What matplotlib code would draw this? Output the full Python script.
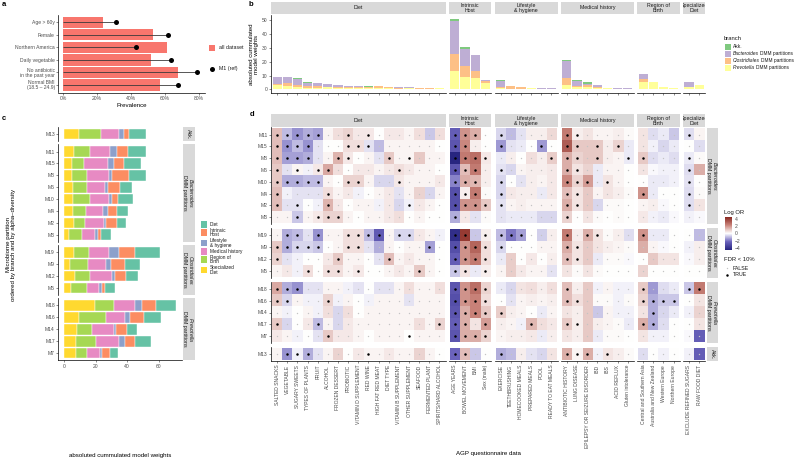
import matplotlib
matplotlib.use('Agg')
import matplotlib.pyplot as plt
import numpy as np
from matplotlib.colors import LinearSegmentedColormap, Normalize
from matplotlib.patches import Rectangle
import matplotlib.cm as cm

plt.rcParams['font.family'] = ['Liberation Sans', 'DejaVu Sans']
plt.rcParams['mathtext.fontset'] = 'custom'
plt.rcParams['mathtext.it'] = 'Liberation Sans:italic'
plt.rcParams['mathtext.rm'] = 'Liberation Sans'

# ---------------- panel a ----------------
a_labels = ['Age > 60y', 'Female', 'Northern America', 'Daily vegetable',
            'No antibiotic\nin the past year', 'Normal BMI\n(18.5 – 24.9)']
prev_all = [23.5, 53, 61, 52, 68, 57]
prev_m1 = [31, 62, 43, 63.5, 79, 68]

# ---------------- variables (panels b, d) ----------------
diet_vars = ['SALTED SNACKS', 'VEGETABLE', 'SUGARY SWEETS', 'TYPES OF PLANTS', 'FRUIT',
             'ALCOHOL', 'FROZEN DESSERT', 'PROBIOTIC', 'VITAMIN D SUPPLEMENT', 'RED WINE',
             'HIGH FAT RED MEAT', 'DIET TYPE', 'VITAMIN B SUPPLEMENT', 'OTHER SUPPLEMENT',
             'SEAFOOD', 'FERMENTED PLANT', 'SPIRITS/HARD ALCOHOL']
host_vars = ['AGE YEARS', 'BOWEL MOVEMENT', 'BMI', 'Sex (male)']
life_vars = ['EXERCISE', 'TEETHBRUSHING', 'HOMECOOKED MEALS', 'PREPARED MEALS', 'POOL',
             'READY TO EAT MEALS']
med_vars = ['ANTIBIOTIC HISTORY', 'LUNG DISEASE', 'EPILEPSY OR SEIZURE DISORDER', 'IBD', 'IBS',
            'ACID REFLUX', 'Gluten intolerance']
region_vars = ['Central and Southern Asia', 'Australia and New Zealand', 'Western Europe',
               'Northern Europe']
special_vars = ['EXCLUDE REFINED SUGARS', 'RAW FOOD DIET']

categories = ['Diet', 'Intrinsic\nHost', 'Lifestyle\n& hygiene', 'Medical history',
              'Region of\nBirth', 'Specialized\nDiet']

# panel b: cummulated model weights per branch (same variable order as above)
w_prevotella = [3.1, 2.6, 1.9, 0.7, 1.2, 1.4, 1.0, 1.0, 0.7, 1.0, 0.7, 0.7, 0.5, 0.7, 0.2, 0.5, 0.7,
                13.1, 8.6, 8.3, 4.8,
                0.7, 0.0, 0.3, 1.0, 0.2, 0.0,
                3.1, 1.4, 1.4, 1.0, 0.7, 0.2, 0.2,
                5.2, 5.2, 1.7, 1.0,
                1.4, 2.9]
w_clostridiales = [0.9, 2.2, 1.2, 1.4, 1.4, 0.6, 0.7, 0.4, 1.0, 0.4, 1.4, 0.7, 0.7, 0.5, 0.8, 0.2, 0.0,
                   12.6, 8.5, 4.8, 1.4,
                   0.7, 2.4, 1.4, 0.0, 0.0, 0.0,
                   5.2, 1.0, 1.5, 0.4, 0.0, 0.0, 0.0,
                   2.2, 0.0, 0.0, 0.0,
                   0.0, 0.0]
w_bacteroides = [5.0, 3.8, 4.5, 2.4, 1.7, 1.8, 1.2, 1.2, 0.7, 0.5, 0.0, 0.3, 0.2, 0.2, 0.0, 0.0, 0.0,
                 23.3, 12.2, 11.4, 0.5,
                 4.6, 0.0, 0.0, 0.0, 0.8, 0.7,
                 11.9, 3.3, 0.7, 1.5, 0.3, 0.5, 0.5,
                 3.6, 0.0, 0.0, 0.0,
                 3.8, 0.0]
w_akk = [0.0, 0.4, 0.5, 0.5, 0.0, 0.0, 0.0, 0.0, 0.0, 0.5, 0.0, 0.0, 0.0, 0.0, 0.0, 0.0, 0.0,
         1.7, 1.4, 0.0, 0.0,
         0.4, 0.0, 0.0, 0.0, 0.0, 0.0,
         1.2, 0.7, 1.4, 0.0, 0.2, 0.0, 0.0,
         0.0, 0.0, 0.0, 0.0,
         0.0, 0.0]

# ---------------- panel d: log OR and FDR significance ----------------
d_partitions = ['M11', 'M15', 'M8', 'M6', 'M10', 'M4', 'M2', 'M3',
                'M19', 'M9', 'M12', 'M5',
                'M18', 'M16', 'M14', 'M17', 'M7',
                'M13']
lor_diet = [
    [1.2, -1.0, -1.6, -1.2, -1.4, 0.2, 0.6, 0.8, 0.4, 0.4, 0.0, 0.4, 0.4, 0.2, 0.6, -0.8, 0.6],
    [1.2, -1.6, -1.0, -1.6, -0.4, 0.0, 0.0, 0.6, 0.6, -0.4, -1.0, 0.2, 0.2, 0.2, 0.2, 0.2, 0.0],
    [1.2, -1.4, -1.4, -1.2, -0.4, 0.2, 1.4, 0.4, 0.0, 0.2, -0.4, 1.0, 0.2, 0.2, 1.0, 0.2, 0.2],
    [1.0, -0.4, 0.2, -0.2, 0.4, 1.6, 0.6, 0.0, 0.4, 0.4, 0.2, 0.4, 0.6, 0.4, 0.2, 0.2, 0.0],
    [1.0, -1.2, -1.2, -1.0, -1.0, 0.2, 0.0, 0.8, 0.8, 0.2, -0.6, -0.6, 0.4, 0.2, 0.2, 0.2, 0.4],
    [1.2, -0.2, -0.4, -0.4, -0.4, 0.6, 0.2, 0.4, -0.2, 0.0, 0.2, 0.4, -0.4, 0.2, 0.8, -0.6, 0.2],
    [1.2, -0.4, -0.4, 0.0, -0.2, 1.4, 0.4, 0.0, 0.2, 0.2, -0.2, 0.4, -0.6, -0.2, 0.4, 0.2, 0.0],
    [0.2, 0.2, -0.8, 0.2, 0.4, 0.8, 0.8, 0.2, 0.0, 0.2, 0.2, 0.4, 0.6, 0.0, 0.2, 0.0, 0.0],
    [0.2, -1.2, -1.0, -0.4, -1.6, 0.2, 0.2, 0.6, 0.6, -1.0, -2.6, 0.2, -0.6, -0.6, 0.4, 0.2, -0.2],
    [1.0, -1.2, -0.6, -0.6, -0.8, 0.0, 0.2, 0.6, 0.6, -0.4, -1.2, 0.2, 0.0, 0.2, 0.2, -1.4, 0.0],
    [0.8, -0.4, -0.2, 0.0, 0.0, 0.4, 1.0, 0.2, 0.2, 0.0, -0.4, 1.2, 0.2, 0.4, 0.2, 0.2, 0.0],
    [0.2, 0.4, -0.2, 0.6, 0.0, 0.6, 0.6, 0.2, 0.4, 0.0, 0.0, 0.2, 0.4, 0.2, 1.0, 0.2, 0.0],
    [1.6, -1.2, -1.6, -0.4, -0.4, 0.2, 0.2, -0.2, -0.4, 0.0, -0.4, -0.4, 0.2, 0.6, 0.2, 0.2, 0.6],
    [1.0, -0.6, 0.2, -0.2, -0.2, 0.8, -0.2, 0.2, 0.0, -0.2, 0.2, 0.2, 0.2, -0.4, 0.2, 0.2, 0.2],
    [0.2, -0.2, 0.0, 0.2, -0.2, 0.6, -0.6, 0.6, 0.0, 0.2, 0.2, 0.2, 0.2, 0.2, 0.2, 0.2, 0.2],
    [1.0, -0.6, 0.0, 0.4, -1.0, 0.2, -0.6, 0.4, 0.2, 0.2, 0.2, 0.2, 0.2, 0.2, 0.6, 0.2, 0.8],
    [0.4, 0.2, -0.2, 0.0, -0.4, 1.0, 0.4, 0.4, 0.2, 0.0, 0.2, 0.2, 0.2, 0.0, 0.2, 0.2, 0.2],
    [0.2, -1.6, -0.2, -1.2, -0.4, 0.2, 0.8, 0.0, 0.4, 0.2, 0.2, 0.4, 0.2, 0.2, 0.8, 0.2, 0.0],
]
sig_diet = ['11111001010000000', '11110001110000000', '11110011000101000', '10101100000010000',
            '11111001100010000', '10000100000000000', '10100100000001000', '00101110000000000',
            '01101001111011000', '11111001100000010', '10000010000100000', '00010110100000100',
            '11100000000000000', '11000100000000000', '00000000000000000', '10001000000000001',
            '00000100000001000', '01110000010000000']
lor_host = [[-2.5, 2.0, 1.5, 0.0], [-2.8, 2.2, 0.3, 0.0], [-4.5, 2.5, 2.8, 0.4], [-2.8, 1.2, 2.5, 0.3],
            [-1.8, 1.5, 1.3, 0.3], [-3.0, 0.3, 2.5, 0.1], [-3.0, 2.0, 2.0, 1.0], [-1.2, 0.4, -0.4, 0.1],
            [-4.2, 4.0, -0.8, 0.3], [-3.0, 2.0, 3.0, 0.6], [-2.5, 2.0, 2.5, 0.6], [-0.8, 0.5, -0.3, 0.3],
            [-2.8, 2.0, 2.8, 0.8], [-3.0, 2.0, 2.3, 0.6], [-2.8, 1.5, 2.3, 1.0], [-2.5, 1.5, 0.5, 1.8],
            [-2.8, 1.5, 1.5, 0.8], [-2.3, 1.2, -0.8, 0.0]]
sig_host = ['1110', '1100', '1111', '1110', '1110', '1110', '1111', '1000',
            '1101', '1111', '1111', '1101',
            '1111', '1111', '1111', '1101', '1111', '1100']
lor_life = [[-0.6, -1.0, -0.4, 0.3, 0.3, 0.7], [-1.5, -0.4, -0.3, 0.0, -1.5, 0.0],
            [-0.3, 0.3, 0.0, 0.6, 0.3, 0.9], [-0.4, -0.6, 0.2, 0.3, 0.3, 0.4],
            [-0.6, 0.0, -0.4, 0.3, 0.2, 0.4], [-0.6, 0.4, 0.3, 0.3, -0.3, 0.4],
            [-0.4, 0.2, 0.3, 0.2, 0.2, 0.2], [-0.4, -0.3, -0.3, -0.3, -0.6, -0.6],
            [-1.0, -2.0, -1.4, 0.0, -0.7, 0.3], [-0.6, 0.0, 0.0, 0.0, 0.2, 0.2],
            [-0.3, 0.9, 0.0, 0.4, 0.0, 0.3], [0.2, 0.9, 0.4, 0.2, 0.2, -0.4],
            [-0.3, -0.6, 0.5, 0.6, 0.3, 0.6], [0.0, -0.4, 0.2, 0.3, 0.2, 0.3],
            [0.9, 0.3, 0.2, 0.0, -0.3, 0.2], [0.3, 0.2, -0.2, 1.3, 0.6, 0.4],
            [0.2, 0.3, 0.3, 0.4, -0.3, 0.3], [-1.2, -1.0, 0.3, -0.4, -0.6, 0.5]]
sig_life = ['100000', '100010', '000001', '100000', '100000', '100000', '100000', '000000',
            '111000', '100000', '000000', '000000',
            '000000', '000000', '100000', '000100', '000000', '100000']
lor_med = [[2.5, 0.3, 0.5, 0.2, 0.2, 0.3, 0.1], [3.2, 1.0, 1.0, 1.0, 0.3, 0.8, -0.3],
           [1.5, 0.8, 1.0, 1.0, 0.3, 0.2, -0.3], [1.5, 0.5, 0.8, -0.3, 0.2, 0.2, 0.0],
           [2.2, 0.8, 1.8, -0.3, 0.5, 0.2, 0.0], [1.2, 0.5, 1.0, 0.2, 0.5, 0.3, 0.1],
           [1.5, 0.5, 1.0, -0.6, 0.1, 0.1, 0.0], [0.8, 0.0, 0.5, 0.1, 0.0, 0.1, 0.0],
           [2.5, 0.3, 1.5, 0.5, 0.1, 0.3, -0.5], [1.5, 0.5, 1.0, 0.5, 0.3, 0.2, 0.1],
           [1.2, 0.5, 1.0, -0.3, 0.1, 0.1, -0.1], [0.5, 0.1, 0.5, 0.1, 0.0, 0.0, 0.0],
           [1.2, 0.3, 1.0, -0.2, 0.2, -0.2, -0.2], [1.2, 0.6, 1.0, 0.1, 0.1, -0.2, 0.1],
           [0.5, 0.3, 1.0, -0.8, 0.2, -0.2, -0.2], [1.0, 0.3, 1.0, 0.3, 0.2, 0.1, -0.3],
           [0.5, 0.3, 1.0, -0.3, 0.1, 0.1, 0.0], [1.5, 0.2, 1.5, -0.2, 0.5, 0.3, 0.1]]
sig_med = ['1100000', '1101010', '1101001', '1100000', '1110100', '1100000', '1100000', '1000000',
           '1011000', '1100000', '1100000', '0000000',
           '1000000', '1100000', '0000000', '1100000', '0000000', '1110100']
lor_region = [[0.5, -0.5, -0.3, -0.8], [0.5, -0.2, -0.6, -0.3], [1.0, -0.5, -0.3, -0.5],
              [0.5, -0.1, -0.2, -0.2], [0.0, -0.3, -0.3, -0.2], [2.0, -0.3, 0.0, 0.0],
              [0.2, 0.3, -0.1, 0.0], [0.4, -0.2, -0.3, -0.1],
              [2.0, -0.3, -0.3, 0.0], [1.5, 0.2, -0.1, 0.0], [0.0, 1.0, 0.5, 0.5], [0.8, 0.0, 0.0, 0.0],
              [1.0, -1.5, -0.5, -0.3], [0.8, -1.2, -0.8, -0.8], [0.5, -1.2, -0.6, -0.3],
              [1.5, -1.2, -0.5, 0.0], [0.5, -0.2, -0.2, 0.0], [-0.5, 0.0, -0.2, 0.0]]
sig_region = ['0000', '0000', '1000', '0000', '0000', '1000', '0000', '0000',
              '1000', '0000', '0000', '0000',
              '1000', '1111', '0100', '1100', '0000', '0000']
lor_special = [[-0.5, 0.2], [0.0, -0.5], [-0.3, 0.1], [-0.5, 1.5], [-0.4, 0.0], [-0.5, 0.1],
               [-0.5, 0.5], [-0.2, -0.1], [0.0, -1.0], [-0.2, 0.3], [-0.1, 0.3], [0.0, 0.0],
               [-0.8, 2.5], [0.0, 0.5], [-0.2, 0.8], [0.0, 0.5], [-0.1, -2.5], [-0.2, -2.5]]
sig_special = ['10', '00', '10', '10', '10', '10', '10', '00', '00', '00', '00', '00',
               '11', '00', '00', '00', '00', '00']

# ---------------- panel c ----------------
c_partitions = ['M13', 'M11', 'M15', 'M8', 'M6', 'M10', 'M4', 'M2', 'M3',
                'M19', 'M9', 'M12', 'M5', 'M18', 'M16', 'M14', 'M17', 'M7']
c_special = [9.7, 6.3, 5.0, 5.0, 5.9, 5.9, 5.5, 6.7, 3.2, 6.7, 3.8, 7.2, 4.8, 19.4, 9.3, 8.6, 7.8, 7.8]
c_region = [13.5, 10.1, 8.0, 9.5, 8.6, 10.3, 8.2, 6.8, 8.4, 9.1, 11.4, 9.6, 9.5, 12.2, 17.2, 9.3, 12.2, 7.1]
c_medical = [11.5, 12.6, 15.0, 13.9, 11.8, 12.6, 11.1, 11.8, 7.8, 12.6, 11.7, 13.5, 8.2, 13.7, 12.2, 13.5, 14.9, 8.0]
c_lifestyle = [3.6, 4.5, 4.0, 2.3, 1.7, 1.7, 2.8, 1.2, 2.3, 6.3, 2.6, 1.9, 1.5, 4.0, 3.2, 1.6, 4.0, 1.3]
c_host = [3.2, 7.1, 6.3, 10.3, 7.2, 3.8, 6.1, 7.4, 1.9, 10.6, 9.4, 7.4, 2.1, 9.2, 9.0, 7.0, 5.9, 4.8]
c_diet = [10.3, 11.2, 10.3, 11.0, 8.2, 9.5, 6.7, 5.7, 6.1, 15.7, 9.5, 7.6, 6.5, 12.5, 10.6, 6.3, 10.4, 5.1]

# ---------------- drawing ----------------
W, H = 799, 458
fig = plt.figure(figsize=(W / 100, H / 100), dpi=100)

TICK = 3.6
TITLE = 4.4
set2 = ['#66C2A5', '#FC8D62', '#8DA0CB', '#E78AC3', '#A6D854', '#FFD92F']
branch_cols = {'Akk': '#7FC97F', 'Bacteroides': '#BEAED4', 'Clostridiales': '#FDC086',
               'Prevotella': '#FFFF99'}
cmap = LinearSegmentedColormap.from_list('lor', ['#26247F', '#6B63BC', '#FFFFFF', '#C9837A', '#86231C'])
norm = Normalize(-4.6, 4.6)


def px_axes(l, t, r, b):
    return fig.add_axes([l / W, 1 - b / H, (r - l) / W, (b - t) / H])


def style(ax, left=True, bottom=True):
    ax.spines['top'].set_visible(False)
    ax.spines['right'].set_visible(False)
    ax.spines['left'].set_visible(left)
    ax.spines['bottom'].set_visible(bottom)
    ax.spines['left'].set_linewidth(0.5)
    ax.spines['bottom'].set_linewidth(0.5)
    ax.tick_params(length=1.5, width=0.4, pad=1, labelsize=TICK, color='#333333',
                   labelcolor='#4D4D4D')
    if not left:
        ax.tick_params(left=False, labelleft=False)
    ax.set_facecolor('none')


def strip(l, t, r, b, label, rot=0):
    s = px_axes(l, t, r, b)
    s.set_facecolor('#D9D9D9')
    s.set_xticks([])
    s.set_yticks([])
    for sp in s.spines.values():
        sp.set_visible(False)
    s.text(0.5, 0.5, label, rotation=rot, ha='center', va='center', fontsize=3.8,
           color='#1A1A1A', transform=s.transAxes, clip_on=True, linespacing=1.0)
    return s


branch_labels = {'Akk': 'Akk.',
                 'Bacteroides': '$\\it{Bacteroides}$\nDMM partitions',
                 'Clostridiales': '$\\it{Clostridiales}$\nDMM partitions',
                 'Prevotella': '$\\it{Prevotella}$\nDMM partitions'}

# panel a
ax = px_axes(58.3, 14.8, 204.6, 92.5)
ya = np.arange(1, len(a_labels) + 1)
ax.barh(ya, prev_all, height=0.9, color='#F8766D')
ax.hlines(ya, 0, prev_m1, color='#3A3A3A', lw=0.6)
ax.scatter(prev_m1, ya, s=13, color='black', zorder=3, linewidths=0)
ax.set_ylim(len(a_labels) + 0.6, 0.4)
ax.set_xlim(-3, 83.5)
ax.set_yticks(ya)
ax.set_yticklabels(a_labels, linespacing=1.0)
ax.set_xticks([0, 20, 40, 60, 80])
ax.set_xticklabels(['0%', '20%', '40%', '60%', '80%'])
style(ax)
ax.set_xlabel('Prevalence', fontsize=TITLE, labelpad=1.5)

# facet column geometry shared by panels b and d
var_groups = [diet_vars, host_vars, life_vars, med_vars, region_vars, special_vars]
u, gap = 10.15, 3.2
col_x = []
x0 = 271
start = 0
spans = []
for vs in var_groups:
    wdt = (len(vs) + 0.2) * u
    col_x.append((x0, x0 + wdt))
    spans.append((start, start + len(vs)))
    x0 += wdt + gap
    start += len(vs)

# panel b
for gi, (vs, (l, r), (s0, s1)) in enumerate(zip(var_groups, col_x, spans)):
    strip(l, 1.5, r, 14.3, categories[gi])
    ax = px_axes(l, 15.2, r, 92.9)
    xb = np.arange(1, len(vs) + 1)
    bottom = np.zeros(len(vs))
    for name, vals in [('Prevotella', w_prevotella), ('Clostridiales', w_clostridiales),
                       ('Bacteroides', w_bacteroides), ('Akk', w_akk)]:
        v = np.array(vals[s0:s1])
        ax.bar(xb, v, bottom=bottom, width=0.9, color=branch_cols[name], linewidth=0)
        bottom += v
    ax.set_xlim(0.4, len(vs) + 0.6)
    ax.set_ylim(-2.55, 53.5)
    ax.set_xticks(xb)
    ax.set_xticklabels([])
    ax.set_yticks([0, 10, 20, 30, 40, 50])
    style(ax, left=(gi == 0))
    if gi == 0:
        ax.set_ylabel('absoluted cummulated\nmodel weights', fontsize=TITLE, labelpad=2,
                      linespacing=1.0)

# panel d
d_groups = [('Bacteroides', 8), ('Clostridiales', 4), ('Prevotella', 5), ('Akk', 1)]
lor_sets = [lor_diet, lor_host, lor_life, lor_med, lor_region, lor_special]
sig_sets = [sig_diet, sig_host, sig_life, sig_med, sig_region, sig_special]
r_u, vgap, y0 = 11.8, 4.0, 127.5
row_start = 0
for ri, (bname, nrow) in enumerate(d_groups):
    t = y0
    b = t + (nrow + 0.2) * r_u
    y0 = b + vgap
    rows = slice(row_start, row_start + nrow)
    row_start += nrow
    strip(706.5, t, 718, b, branch_labels[bname], rot=-90)
    for gi, (vs, (l, r)) in enumerate(zip(var_groups, col_x)):
        if ri == 0:
            strip(l, 114.3, r, 126.8, categories[gi])
        ax = px_axes(l, t, r, b)
        data = np.array(lor_sets[gi][rows])
        ax.imshow(data, cmap=cmap, norm=norm, aspect='auto', interpolation='nearest',
                  extent=(0.5, len(vs) + 0.5, nrow + 0.5, 0.5))
        sig = np.array([[c == '1' for c in s] for s in sig_sets[gi][rows]])
        yy, xx = np.mgrid[1:nrow + 1, 1:len(vs) + 1]
        ax.scatter(xx[~sig], yy[~sig], s=1.0, color='#C4C4C4', linewidths=0)
        ax.scatter(xx[sig], yy[sig], s=3.2, color='black', linewidths=0)
        ax.set_xlim(0.4, len(vs) + 0.6)
        ax.set_ylim(nrow + 0.6, 0.4)
        ax.set_xticks(np.arange(1, len(vs) + 1))
        ax.set_yticks(np.arange(1, nrow + 1))
        ax.set_yticklabels(d_partitions[rows])
        last = ri == len(d_groups) - 1
        if last:
            ax.set_xticklabels(vs, rotation=90, fontsize=3.4)
        else:
            ax.set_xticklabels([])
        style(ax, left=(gi == 0), bottom=last)
        if not last:
            ax.tick_params(bottom=False)

# panel c
c_groups = [('Akk', 1), ('Bacteroides', 8), ('Clostridiales', 4), ('Prevotella', 5)]
c_layers = [c_special, c_region, c_medical, c_lifestyle, c_host, c_diet]
c_cols = [set2[5], set2[4], set2[3], set2[2], set2[1], set2[0]]
r_c, cgap, yc = 11.9, 3.2, 126.9
row_start = 0
for ri, (bname, nrow) in enumerate(c_groups):
    t = yc
    b = t + (nrow + 0.2) * r_c
    yc = b + cgap
    rows = slice(row_start, row_start + nrow)
    row_start += nrow
    ax = px_axes(58.3, t, 181.7, b)
    yb = np.arange(1, nrow + 1)
    left = np.zeros(nrow)
    for vals, col in zip(c_layers, c_cols):
        v = np.array(vals[rows])
        ax.barh(yb, v, left=left, height=0.9, color=col, edgecolor='white', linewidth=0.3)
        left += v
    ax.set_ylim(nrow + 0.6, 0.4)
    ax.set_xlim(-3.55, 74.55)
    ax.set_yticks(yb)
    ax.set_yticklabels(c_partitions[rows])
    ax.set_xticks([0, 20, 40, 60])
    last = ri == len(c_groups) - 1
    style(ax, bottom=last)
    if not last:
        ax.tick_params(bottom=False, labelbottom=False)
    strip(182.8, t, 194.5, b, branch_labels[bname], rot=-90)

# colour bar for panel d
cax = px_axes(725, 216.7, 732, 250)
cb = fig.colorbar(cm.ScalarMappable(norm=norm, cmap=cmap), cax=cax, ticks=[4, 2, 0, -2, -4])
cb.outline.set_visible(False)
cb.ax.tick_params(length=1.2, width=0.4, pad=1, labelsize=TICK, color='white', labelcolor='#4D4D4D')
cb.ax.set_yticklabels(['4', '2', '0', '−2', '−4'])

# overlay for legends, titles and panel letters (pixel coordinates)
ov = px_axes(0, 0, W, H)
ov.set_xlim(0, W)
ov.set_ylim(H, 0)
ov.axis('off')
ov.patch.set_alpha(0)
rend = fig.canvas.get_renderer()

for txt, x, y in [('a', 2, 5), ('b', 249, 4), ('c', 2, 118), ('d', 250, 115)]:
    ov.text(x, y, txt, fontsize=5.5, fontweight='bold', ha='left', va='center')

LEG = 3.8
# legend a
ov.add_patch(Rectangle((208.5, 44.5), 6.5, 6.5, color='#F8766D', lw=0))
ov.text(219, 47.7, 'all dataset', fontsize=LEG, va='center', color='#1A1A1A')
ov.scatter([212], [68.5], s=13, color='black', linewidths=0)
ov.text(219, 68.5, 'M1 (ref)', fontsize=LEG, va='center', color='#1A1A1A')

# legend b (italic genus name followed by plain text)
ov.text(724, 39, 'branch', fontsize=4.2, va='center', color='#1A1A1A')
b_leg = [('Akk', 'Akk.', ''), ('Bacteroides', 'Bacteroides', 'DMM partitions'),
         ('Clostridiales', 'Clostridiales', 'DMM partitions'),
         ('Prevotella', 'Prevotella', 'DMM partitions')]
for i, (key, genus, rest) in enumerate(b_leg):
    yy = 46.7 + i * 7.0
    ov.add_patch(Rectangle((725, yy - 3.2), 6, 6.4, color=branch_cols[key], lw=0))
    t1 = ov.text(733, yy, genus, fontsize=3.5, va='center', color='#1A1A1A',
                 fontstyle='italic' if rest else 'normal')
    if rest:
        bb = t1.get_window_extent(renderer=rend)
        ov.text(733 + bb.width + 1.3, yy, rest, fontsize=3.5, va='center', color='#1A1A1A')

# legend c (keys with one or two text lines)
yy = 221.0
for lab, col in zip(categories, set2):
    h = 6.6 if '\n' not in lab else 10.2
    yc_ = yy + h / 2
    ov.add_patch(Rectangle((201, yc_ - 3.3), 6.2, 6.6, color=col, lw=0))
    ov.text(209.5, yc_, lab, fontsize=3.4, va='center', color='#1A1A1A', linespacing=0.85)
    yy += h

# legend d
ov.text(724, 212.5, 'Log OR', fontsize=4.2, va='center', color='#1A1A1A')
ov.text(724, 259.8, 'FDR < 10%', fontsize=4.2, va='center', color='#1A1A1A')
ov.scatter([727], [268], s=1.0, color='#C4C4C4', linewidths=0)
ov.text(733, 268, 'FALSE', fontsize=LEG, va='center', color='#1A1A1A')
ov.scatter([727], [275], s=3.2, color='black', linewidths=0)
ov.text(733, 275, 'TRUE', fontsize=LEG, va='center', color='#1A1A1A')

# axis titles
ov.text(11, 245, 'Microbiome partition\nordered by branch and by alpha–diversity', fontsize=TITLE,
        rotation=90, ha='center', va='center', linespacing=1.0)
ov.text(120, 455, 'absoluted cummulated model weights', fontsize=TITLE, ha='center', va='center')
ov.text(488, 454, 'AGP questionnaire data', fontsize=TITLE, ha='center', va='center')

fig.savefig('out.png', dpi=100)
